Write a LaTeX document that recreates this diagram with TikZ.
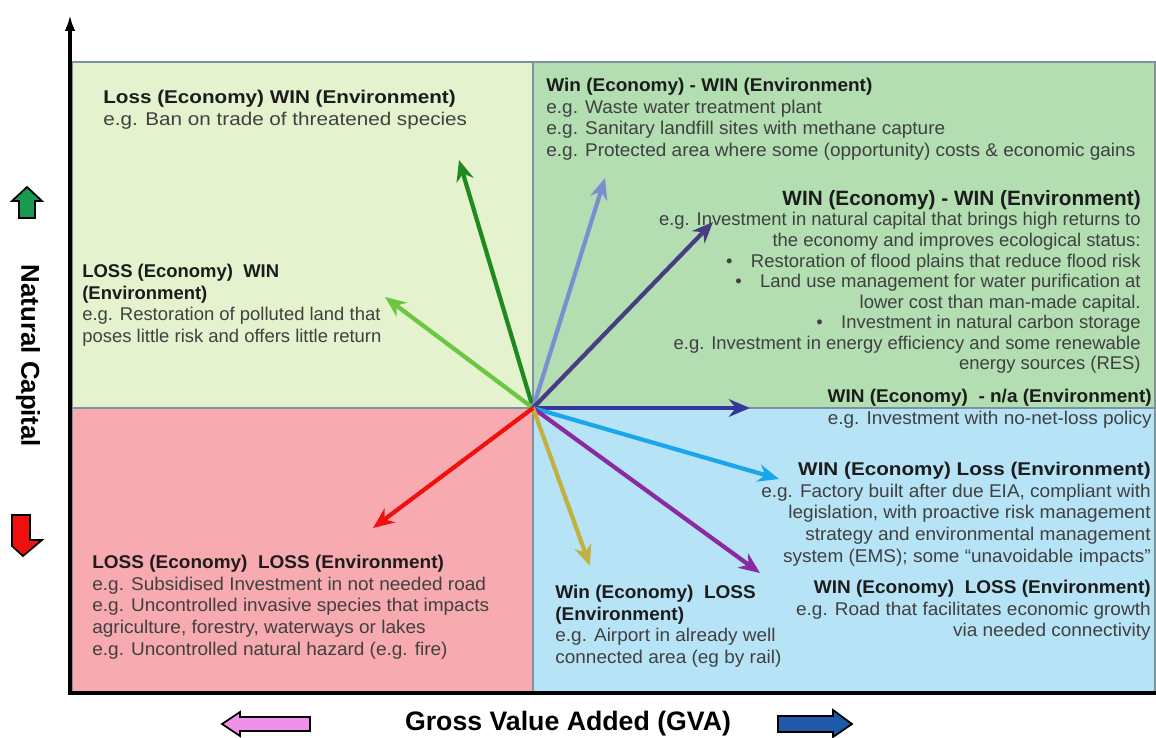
\documentclass[tikz,border=0pt]{standalone}
\usepackage{fontspec}
\setmainfont{Liberation Sans}[FakeStretch=1.03]
\newfontfamily\widesans{Liberation Sans}[FakeStretch=1.12]
\newfontfamily\plainsans{Liberation Sans}
\usetikzlibrary{arrows.meta}
\definecolor{tlfill}{RGB}{228,242,206}
\definecolor{trfill}{RGB}{178,222,178}
\definecolor{blfill}{RGB}{247,170,176}
\definecolor{brfill}{RGB}{182,228,246}
\definecolor{qborder}{RGB}{125,147,163}
\definecolor{titlec}{RGB}{28,28,28}
\definecolor{bodyc}{RGB}{64,64,64}
\definecolor{cdkgreen}{RGB}{31,138,31}
\definecolor{cltgreen}{RGB}{108,198,68}
\definecolor{cperi}{RGB}{123,143,208}
\definecolor{cdkpurple}{RGB}{74,60,128}
\definecolor{cnavy}{RGB}{53,53,154}
\definecolor{csky}{RGB}{26,166,236}
\definecolor{cpurple}{RGB}{138,42,160}
\definecolor{colive}{RGB}{194,176,64}
\definecolor{cred}{RGB}{240,16,16}
\definecolor{upgreen}{RGB}{26,154,80}
\definecolor{pinkarr}{RGB}{240,144,232}
\definecolor{bluearr}{RGB}{31,90,168}
\newcommand\bodyfont{\fontsize{10.5}{12.3}\selectfont}
\newcommand\ttl[1]{\textcolor{titlec}{\bfseries #1}}
\begin{document}
\begin{tikzpicture}[x=0.02cm,y=-0.02cm,
  quad/.style={draw=qborder, line width=1.4pt},
  blk/.style={inner sep=0pt, font=\bodyfont, text=bodyc},
  lblk/.style={blk, align=left, anchor=north west},
  rblk/.style={blk, align=right, anchor=north east},
  vec/.style={line width=2.4pt, -{Stealth[length=12pt,width=10pt]}},
  blockarrow/.style={draw=black, line width=1pt, line join=miter}]
\useasboundingbox (0,0) rectangle (1156,737);
% quadrants
\fill[tlfill] (72,62) rectangle (533,408);
\fill[trfill] (533,62) rectangle (1155,408);
\fill[blfill] (72,408) rectangle (533,693);
\fill[brfill] (533,408) rectangle (1155,693);
\draw[quad] (72,62) rectangle (1155,693);
\draw[quad] (533,62) -- (533,693);
\draw[quad] (72,408) -- (1155,408);
% axes
\coordinate (ybot) at (70,694);
\coordinate (ytop) at (70,15);
\coordinate (xleft) at (68,693);
\coordinate (xright) at (1156,693);
\draw[line width=1.8pt, -{Latex[length=9pt,width=6pt]}] (ybot) -- (ytop);
\draw[line width=2.2pt] (xleft) -- (xright);
% origin and vector tips
\coordinate (O) at (533,408);
\coordinate (tdkgreen) at (459,160);
\coordinate (tltgreen) at (385,297);
\coordinate (tperi) at (605,178);
\coordinate (tdkpurple) at (713,222);
\coordinate (tnavy) at (750,408);
\coordinate (tsky) at (779,479);
\coordinate (tpurple) at (760,573);
\coordinate (tolive) at (590,566);
\coordinate (tred) at (373,528);
% text blocks
\node[lblk, font=\widesans\bodyfont] (tl1) at (103,90) {\ttl{Loss (Economy) WIN (Environment)}\\e.g. Ban on trade of threatened species};
\node[lblk, font=\plainsans\bodyfont] (tl2) at (82,264) {\ttl{LOSS (Economy)\ \ WIN}\\\ttl{(Environment)}\\e.g. Restoration of polluted land that\\poses little risk and offers little return};
\node[lblk] (tr1) at (546,78) {\ttl{Win (Economy) - WIN (Environment)}\\e.g. Waste water treatment plant\\e.g. Sanitary landfill sites with methane capture\\e.g. Protected area where some (opportunity) costs \& economic gains};
\node[rblk, font=\plainsans\fontsize{10.5}{11.7}\selectfont] (tr2) at (1141,190) {{\fontsize{11.8}{11.7}\selectfont\ttl{WIN (Economy) - WIN (Environment)}}\\e.g. Investment in natural capital that brings high returns to\\the economy and improves ecological status:\\•\quad Restoration of flood plains that reduce flood risk\\•\quad Land use management for water purification at\\lower cost than man-made capital.\\•\quad Investment in natural carbon storage\\e.g. Investment in energy efficiency and some renewable\\energy sources (RES)};
\node[rblk] (tr3) at (1152,389) {\ttl{WIN (Economy)\ \ - n/a (Environment)}\\e.g. Investment with no-net-loss policy};
\node[rblk] (br1) at (1151,462) {{\widesans\ttl{WIN (Economy) Loss (Environment)}}\\e.g. Factory built after due EIA, compliant with\\legislation, with proactive risk management\\strategy and environmental management\\system (EMS); some “unavoidable impacts”};
\node[rblk] (br2) at (1151,580) {\ttl{WIN (Economy)\ \ LOSS (Environment)}\\e.g. Road that facilitates economic growth\\via needed connectivity};
\node[lblk] (br3) at (555,585) {\ttl{Win (Economy)\ \ LOSS}\\\ttl{(Environment)}\\e.g. Airport in already well\\connected area (eg by rail)};
\node[lblk] (bl) at (92,555) {\ttl{LOSS (Economy)\ \ LOSS (Environment)}\\e.g. Subsidised Investment in not needed road\\e.g. Uncontrolled invasive species that impacts\\agriculture, forestry, waterways or lakes\\e.g. Uncontrolled natural hazard (e.g. fire)};
% vectors
\draw[vec, cdkgreen] (O) -- (tdkgreen);
\draw[vec, cltgreen] (O) -- (tltgreen);
\draw[vec, cperi] (O) -- (tperi);
\draw[vec, cdkpurple] (O) -- (tdkpurple);
\draw[vec, cnavy] (O) -- (tnavy);
\draw[vec, csky] (O) -- (tsky);
\draw[vec, cpurple] (O) -- (tpurple);
\draw[vec, colive] (O) -- (tolive);
\draw[vec, cred] (O) -- (tred);
% axis labels
\node[font=\plainsans\bfseries\fontsize{14.7}{16}\selectfont, rotate=-90, inner sep=0pt] (ylab) at (28,356) {Natural Capital};
\node[font=\plainsans\bfseries\fontsize{15.2}{17}\selectfont, inner sep=0pt] (xlab) at (568,724) {Gross Value Added (GVA)};
% block arrows
\filldraw[blockarrow, fill=upgreen] (27,187) -- (42,201) -- (35,201) -- (35,218) -- (19,218) -- (19,201) -- (12,201) -- cycle;
\filldraw[blockarrow, fill=cred] (12,515) -- (30,515) -- (30,540) -- (42,540) -- (23,556) -- (12,546) -- cycle;
\filldraw[blockarrow, fill=pinkarr] (222,724) -- (240,712) -- (240,717) -- (310,717) -- (310,731) -- (240,731) -- (240,736) -- cycle;
\filldraw[blockarrow, fill=bluearr] (778,716) -- (833,716) -- (833,710) -- (852,724) -- (833,737) -- (833,732) -- (778,732) -- cycle;
\end{tikzpicture}
\end{document}
